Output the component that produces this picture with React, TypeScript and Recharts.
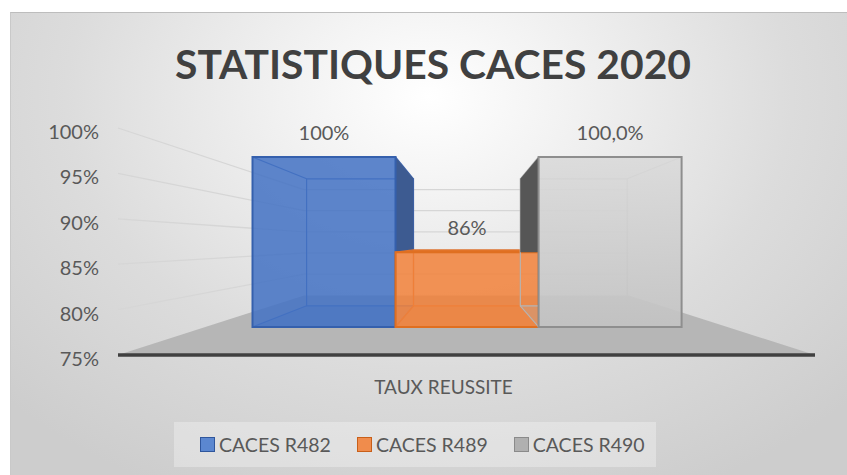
import { BarChart, Bar, XAxis, YAxis, CartesianGrid, LabelList, Legend, ReferenceArea } from "recharts"

// ---- data ----
const categories = ["TAUX REUSSITE"]
const seriesNames = ["CACES R482", "CACES R489", "CACES R490"]
const seriesKeys = ["r482", "r489", "r490"]
const r482 = [1]
const r489 = [0.86]
const r490 = [1]
const labels482 = ["100%"]
const labels489 = ["86%"]
const labels490 = ["100,0%"]
const yTicks = [0.75, 0.8, 0.85, 0.9, 0.95, 1]
const yTickLabels = ["75%", "80%", "85%", "90%", "95%", "100%"]
const chartTitle = "STATISTIQUES CACES 2020"

const valueLabels = [labels482, labels489, labels490]

const data = categories.map((name, i) => ({
  name,
  r482: r482[i],
  r489: r489[i],
  r490: r490[i],
}))

// ---- layout ----
const W = 847
const H = 475
const Y_DOMAIN: [number, number] = [0.75, 1]
const MARGIN = { top: 128, right: 32, bottom: 90, left: 0 }
const Y_AXIS_W = 118
const X_AXIS_H = 30
const PLOT = {
  left: MARGIN.left + Y_AXIS_W,
  right: W - MARGIN.right,
  top: MARGIN.top,
  bottom: H - MARGIN.bottom - X_AXIS_H,
}

// fake 3d: everything is pulled toward a vanishing point in the middle of the plot
const VX = (PLOT.left + PLOT.right) / 2
const VY = PLOT.top + 0.508 * (PLOT.bottom - PLOT.top)
const S_FRONT = 0.749
const S_BACK = 0.5595
const S_WALL = 0.466

const FONT = "Lato, 'Open Sans', sans-serif"
const TEXT = "#595959"

const styles = [
  { front: "#4472c4", frontOp: 0.86, stroke: "#3560ad", edge: "#3e66b3", side: "#3d5b91", top: "#3f67b0" },
  { front: "#f2813a", frontOp: 0.85, stroke: "#e06f20", edge: "#dd7330", side: "#c9651f", top: "#e27327" },
  { front: "url(#grayFront)", frontOp: 0.9, stroke: "#8e8e8e", edge: "#b5b5b5", side: "#565656", top: "#a8a8a8" },
]
const legendFill = ["#5b87d0", "#f08c4c", "#b0b0b0"]
const legendStroke = ["#2f569c", "#c85f19", "#8a8a8a"]

const proj = (px: number, py: number, s: number) => [VX + (px - VX) * s, VY + (py - VY) * s]
const pts = (list: number[][]) => list.map((q) => q[0].toFixed(1) + "," + q[1].toFixed(1)).join(" ")
const yOf = (v: number) =>
  PLOT.bottom - ((v - Y_DOMAIN[0]) / (Y_DOMAIN[1] - Y_DOMAIN[0])) * (PLOT.bottom - PLOT.top)

const seriesValues = [r482, r489, r490]

function Box3D(props: any) {
  const { x, y, width, height, index, series } = props
  if (width == null || height == null) return <g />
  const st = styles[series]
  const x0 = x
  const x1 = x + width
  const yT = y
  const yB = y + height

  const fLT = proj(x0, yT, S_FRONT)
  const fRT = proj(x1, yT, S_FRONT)
  const fRB = proj(x1, yB, S_FRONT)
  const fLB = proj(x0, yB, S_FRONT)
  const bLT = proj(x0, yT, S_BACK)
  const bRT = proj(x1, yT, S_BACK)
  const bRB = proj(x1, yB, S_BACK)
  const bLB = proj(x0, yB, S_BACK)

  // side faces hidden behind the neighbour's front face
  let side: number[][] | null = null
  if (x1 < VX) {
    const n = seriesValues[series + 1]
    const yc = n ? proj(0, yOf(n[index]), S_FRONT)[1] : Infinity
    side = [fRT, bRT, [bRB[0], Math.min(bRB[1], yc)], [fRB[0], Math.min(fRB[1], yc)]]
  } else if (x0 > VX) {
    const n = seriesValues[series - 1]
    const yc = n ? proj(0, yOf(n[index]), S_FRONT)[1] : Infinity
    side = [fLT, bLT, [bLB[0], Math.min(bLB[1], yc)], [fLB[0], Math.min(fLB[1], yc)]]
  }
  const showTop = fLT[1] > VY

  return (
    <g>
      <polygon points={pts([fLB, fRB, bRB, bLB])} fill={st.edge} fillOpacity={0.25} />
      <polygon points={pts([bLT, bRT, bRB, bLB])} fill="none" stroke={st.edge} strokeWidth={1.2} />
      <line x1={fLT[0]} y1={fLT[1]} x2={bLT[0]} y2={bLT[1]} stroke={st.edge} strokeWidth={1.2} />
      <line x1={fRT[0]} y1={fRT[1]} x2={bRT[0]} y2={bRT[1]} stroke={st.edge} strokeWidth={1.2} />
      <line x1={fLB[0]} y1={fLB[1]} x2={bLB[0]} y2={bLB[1]} stroke={st.edge} strokeWidth={1.2} />
      <line x1={fRB[0]} y1={fRB[1]} x2={bRB[0]} y2={bRB[1]} stroke={st.edge} strokeWidth={1.2} />
      {side && <polygon points={pts(side)} fill={st.side} />}
      {showTop && <polygon points={pts([fLT, fRT, bRT, bLT])} fill={st.top} />}
      <polygon
        points={pts([fLT, fRT, fRB, fLB])}
        fill={st.front}
        fillOpacity={st.frontOp}
        stroke={st.stroke}
        strokeWidth={2}
      />
    </g>
  )
}

function Floor(props: any) {
  const { x, y, width, height } = props
  const left = x
  const right = x + width
  const bottom = y + height
  const bl = proj(left, bottom, S_WALL)
  const br = proj(right, bottom, S_WALL)
  return <polygon points={pts([[left, bottom], [right, bottom], br, bl])} fill="#b6b6b6" />
}

function GridLine(props: any) {
  const { x1, x2, y1 } = props
  if (Math.abs(y1 - PLOT.bottom) < 1) return <g />
  const a = proj(x1, y1, S_WALL)
  const b = proj(x2, y1, S_WALL)
  return <polyline points={pts([[x1, y1], a, b])} fill="none" stroke="#d6d6d6" strokeWidth={1.3} />
}

function YTick(props: any) {
  const { x, y, payload } = props
  const i = yTicks.indexOf(payload.value)
  return (
    <text x={x} y={y + 11} textAnchor="end" fill={TEXT} fontSize={20} fontFamily={FONT}>
      {i >= 0 ? yTickLabels[i] : payload.value}
    </text>
  )
}

function XTick(props: any) {
  const { x, y, payload } = props
  return (
    <text x={x - 23} y={y + 31} textAnchor="middle" fill={TEXT} fontSize={19} fontFamily={FONT}>
      {payload.value}
    </text>
  )
}

const valueLabel = (series: number) => (props: any) => {
  const { x, y, width, index } = props
  const [cx, ty] = proj(x + width / 2, y, S_FRONT)
  return (
    <text x={cx} y={ty - 17} textAnchor="middle" fill={TEXT} fontSize={20} fontFamily={FONT}>
      {valueLabels[series][index]}
    </text>
  )
}

function LegendBox() {
  return (
    <div
      style={{
        width: 482,
        height: 45,
        boxSizing: "border-box",
        background: "rgba(255,255,255,0.3)",
        display: "flex",
        alignItems: "center",
        paddingLeft: 26,
        gap: 26,
        fontFamily: FONT,
        fontSize: 19.5,
        color: TEXT,
      }}
    >
      {seriesNames.map((n, i) => (
        <span key={n} style={{ display: "flex", alignItems: "center" }}>
          <span
            style={{
              display: "inline-block",
              width: 13,
              height: 13,
              background: legendFill[i],
              border: "1.5px solid " + legendStroke[i],
              marginRight: 4,
            }}
          />
          {n}
        </span>
      ))}
    </div>
  )
}

export default function App() {
  return (
    <div style={{ position: "absolute", left: 0, top: 0, width: W, height: H, background: "#fff" }}>
      <div
        style={{
          position: "absolute",
          left: 10,
          top: 12,
          right: 0,
          bottom: 0,
          borderTop: "1px solid #bdbdbd",
          borderLeft: "1px solid #c9c9c9",
          background:
            "radial-gradient(ellipse 70% 95% at 50% 18%, #ffffff 0%, #f3f3f3 22%, #dcdcdc 62%, #cdcdcd 100%)",
        }}
      />
      <svg width={W} height={H} style={{ position: "absolute", left: 0, top: 0 }}>
        <text
          x={175}
          y={79}
          fontFamily={FONT}
          fontWeight={700}
          fontSize={41}
          textLength={516}
          lengthAdjust="spacingAndGlyphs"
          fill="#404040"
        >
          {chartTitle}
        </text>
      </svg>
      <div style={{ position: "absolute", left: 0, top: 0 }}>
        <BarChart width={W} height={H} data={data} margin={MARGIN} barCategoryGap="9%" barGap={0}>
          <defs>
            <linearGradient id="grayFront" x1="0" y1="0" x2="0" y2="1">
              <stop offset="0%" stopColor="#dadada" />
              <stop offset="100%" stopColor="#c3c3c3" />
            </linearGradient>
          </defs>
          <CartesianGrid vertical={false} horizontal={GridLine} />
          <ReferenceArea y1={0.75} y2={0.8} shape={Floor} ifOverflow="visible" />
          <XAxis
            dataKey="name"
            height={X_AXIS_H}
            tickLine={false}
            axisLine={{ stroke: "#404040", strokeWidth: 3.5 }}
            tick={XTick}
          />
          <YAxis
            width={Y_AXIS_W}
            domain={Y_DOMAIN}
            ticks={yTicks}
            allowDataOverflow
            axisLine={false}
            tickLine={false}
            tickMargin={13}
            tick={YTick}
          />
          <Legend
            layout="horizontal"
            verticalAlign="middle"
            align="center"
            content={LegendBox}
            wrapperStyle={{ left: 174, top: 422, width: 482, height: 45 }}
          />
          {seriesKeys.map((k, i) => (
            <Bar
              key={k}
              dataKey={k}
              name={seriesNames[i]}
              isAnimationActive={false}
              shape={(p: any) => <Box3D {...p} series={i} />}
            >
              <LabelList dataKey={k} content={valueLabel(i)} />
            </Bar>
          ))}
        </BarChart>
      </div>
    </div>
  )
}
